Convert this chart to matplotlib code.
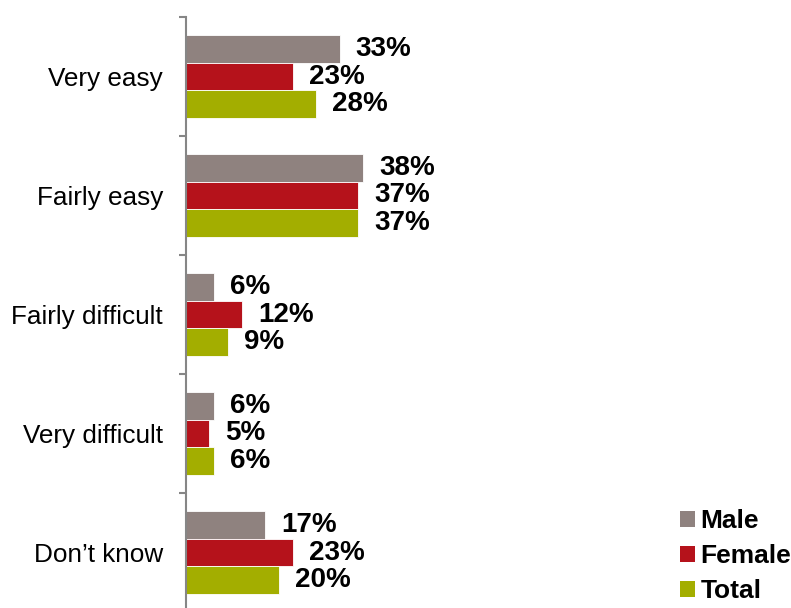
import matplotlib
matplotlib.use("Agg")
import matplotlib.pyplot as plt
import numpy as np
from matplotlib.patches import Patch

categories = ["Very easy", "Fairly easy", "Fairly difficult", "Very difficult", "Don\u2019t know"]
series_names = ["Male", "Female", "Total"]
male = [33, 38, 6, 6, 17]
female = [23, 37, 12, 5, 23]
total = [28, 37, 9, 6, 20]
colors = ["#8F827F", "#B5121B", "#A3AE00"]

plt.rcParams["font.family"] = ["Liberation Sans", "DejaVu Sans"]

fig = plt.figure(figsize=(7.91, 6.08), dpi=100)
# axes spans 5 category bands of ~119 px each, starting 17 px from the top
ax = fig.add_axes([186 / 791, (608 - 612) / 608, 466 / 791, 595 / 608])

y = np.arange(len(categories))
bar_h = 0.235
offsets = [-bar_h, 0.0, bar_h]

for values, offset, color in zip([male, female, total], offsets, colors):
    bars = ax.barh(y + offset, values, height=bar_h, color=color,
                   edgecolor="white", linewidth=0.6)
    for rect, v in zip(bars, values):
        ax.annotate(f"{v}%", (rect.get_width(), rect.get_y() + rect.get_height() / 2),
                    xytext=(16, 0), textcoords="offset pixels",
                    ha="left", va="center", fontsize=20, fontweight="bold")

ax.set_xlim(0, 100)
ax.set_ylim(len(categories) - 0.5, -0.5)

ax.set_yticks(y)
ax.set_yticklabels(categories, fontsize=18.8)
ax.tick_params(axis="y", which="major", length=0, pad=16.5)
ax.set_yticks(np.arange(-0.5, len(categories) + 0.5), minor=True)
ax.tick_params(axis="y", which="minor", length=5, width=1.5, color="#868686", direction="out")
ax.set_xticks([])

for side in ["top", "right", "bottom"]:
    ax.spines[side].set_visible(False)
ax.spines["left"].set_color("#868686")
ax.spines["left"].set_linewidth(1.5)

handles = [Patch(facecolor=c, edgecolor="none") for c in colors]
fig.legend(handles, series_names, loc="upper left", bbox_to_anchor=(680 / 791, 1 - 509 / 608),
           frameon=False, borderpad=0, borderaxespad=0, handlelength=0.55, handleheight=0.55,
           handletextpad=0.22, labelspacing=0.42, prop={"size": 19, "weight": "bold"})

fig.savefig("out.png", dpi=100)
